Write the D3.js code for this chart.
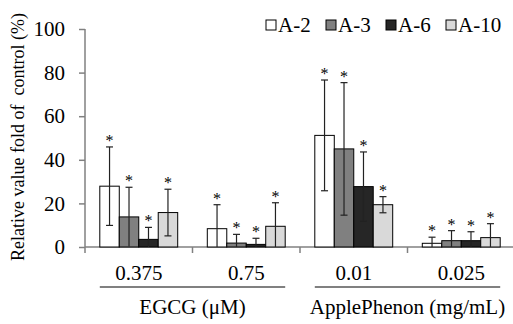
<!DOCTYPE html>
<html>
<head>
<meta charset="utf-8">
<script src="https://cdn.jsdelivr.net/npm/d3@7"></script>
<style>
  body { margin: 0; background: #fff; }
  svg text { font-family: "Liberation Serif", "Times New Roman", serif !important; fill: #000; }
</style>
</head>
<body>
<div id="chart"></div>
<script>
// doses on the x axis, two compounds
let doses = ["0.375", "0.75", "0.01", "0.025"];
let series = ["A-2", "A-3", "A-6", "A-10"];
let seriesColors = ["#ffffff", "#808080", "#262626", "#d9d9d9"];
let compounds = ["EGCG (\u03bcM)", "ApplePhenon (mg/mL)"];
let compoundDoses = [["0.375", "0.75"], ["0.01", "0.025"]];
let yTicks = [0, 20, 40, 60, 80, 100];

// means per series, one value per dose
let meanA2 = [27.9, 8.4, 51.2, 1.7];
let meanA3 = [13.8, 1.8, 45.0, 2.9];
let meanA6 = [3.5, 1.2, 27.7, 2.9];
let meanA10 = [15.8, 9.5, 19.4, 4.3];
// error (sd)
let errA2 = [18.0, 11.0, 25.4, 2.8];
let errA3 = [13.6, 4.0, 30.4, 4.6];
let errA6 = [5.5, 2.8, 15.9, 4.1];
let errA10 = [10.7, 10.8, 3.7, 6.4];

let means = [meanA2, meanA3, meanA6, meanA10];
let errs = [errA2, errA3, errA6, errA10];

let data = [];
doses.forEach((d, i) => {
    series.forEach((s, j) => {
        data.push({dose: d, series: s, mean: means[j][i], err: errs[j][i]});
    });
});

let width = 513, height = 324;
let serif = "Liberation Serif, Times New Roman, serif";
let svg = d3.select("#chart").append("svg")
    .attr("width", width)
    .attr("height", height)
    .attr("font-family", serif);

let x0 = d3.scaleBand().domain(doses).range([85, 515]).padding(0);
let x1 = d3.scaleBand().domain(series).range([0, x0.bandwidth()])
    .paddingInner(0).paddingOuter(0.76);
let y = d3.scaleLinear().domain([0, 100]).range([247, 29]);
let color = d3.scaleOrdinal().domain(series).range(seriesColors);

// y axis
let yAxis = svg.append("g")
    .attr("transform", "translate(85,0)")
    .call(d3.axisLeft(y).tickValues(yTicks).tickSize(6).tickPadding(14));
yAxis.attr("font-family", serif).attr("font-size", 21);
yAxis.select(".domain").attr("stroke", "#808080").attr("stroke-width", 1.5)
    .attr("d", "M0," + y(100) + "V" + (y(0) + 6));
yAxis.selectAll(".tick line").attr("stroke", "#808080").attr("stroke-width", 1.5);
yAxis.selectAll(".tick text").style("font-size", "21px");

// x axis line + group separators
let xAxis = svg.append("g")
    .attr("transform", "translate(0," + y(0) + ")")
    .call(d3.axisBottom(x0).tickSize(0).tickFormat(""));
xAxis.select(".domain").attr("stroke", "#808080").attr("stroke-width", 1.5)
    .attr("d", "M85,0H513");
xAxis.selectAll(".tick").remove();
xAxis.selectAll(".sep")
    .data(doses.slice(1))
    .enter().append("line")
    .attr("x1", d => x0(d)).attr("x2", d => x0(d))
    .attr("y1", 0).attr("y2", 6)
    .attr("stroke", "#808080").attr("stroke-width", 1.5);

// bars
let groups = svg.selectAll(".grp")
    .data(doses).enter().append("g")
    .attr("transform", d => "translate(" + x0(d) + ",0)");

groups.selectAll("rect")
    .data(d => data.filter(e => e.dose === d))
    .enter().append("rect")
    .attr("x", d => x1(d.series))
    .attr("width", x1.bandwidth())
    .attr("y", d => y(d.mean))
    .attr("height", d => y(0) - y(d.mean))
    .attr("fill", d => color(d.series))
    .attr("stroke", "#000")
    .attr("stroke-width", 1);

// error bars
let eb = groups.selectAll(".err")
    .data(d => data.filter(e => e.dose === d))
    .enter().append("g");
eb.append("line")
    .attr("x1", d => x1(d.series) + x1.bandwidth() / 2)
    .attr("x2", d => x1(d.series) + x1.bandwidth() / 2)
    .attr("y1", d => y(Math.max(0, d.mean - d.err)))
    .attr("y2", d => y(d.mean + d.err))
    .attr("stroke", "#222").attr("stroke-width", 1.2);
eb.append("line")
    .attr("x1", d => x1(d.series) + x1.bandwidth() / 2 - 3.5)
    .attr("x2", d => x1(d.series) + x1.bandwidth() / 2 + 3.5)
    .attr("y1", d => y(d.mean + d.err))
    .attr("y2", d => y(d.mean + d.err))
    .attr("stroke", "#222").attr("stroke-width", 1.2);
eb.filter(d => d.mean - d.err > 0.5).append("line")
    .attr("x1", d => x1(d.series) + x1.bandwidth() / 2 - 3.5)
    .attr("x2", d => x1(d.series) + x1.bandwidth() / 2 + 3.5)
    .attr("y1", d => y(d.mean - d.err))
    .attr("y2", d => y(d.mean - d.err))
    .attr("stroke", "#222").attr("stroke-width", 1.2);
eb.append("text")
    .attr("x", d => x1(d.series) + x1.bandwidth() / 2)
    .attr("y", d => y(d.mean + d.err) - 1)
    .attr("text-anchor", "middle")
    .style("font-size", "16px")
    .text("*");

// dose labels
svg.selectAll(".dose")
    .data(doses).enter().append("text")
    .attr("x", d => x0(d) + x0.bandwidth() / 2)
    .attr("y", 280)
    .attr("text-anchor", "middle")
    .style("font-size", "21px")
    .text(d => d);

// compound underline + title
compounds.forEach((c, i) => {
    let first = compoundDoses[i][0], last = compoundDoses[i][1];
    let xs = x0(first) + x1(series[0]);
    let xe = x0(last) + x1(series[3]) + x1.bandwidth();
    svg.append("line")
        .attr("x1", xs).attr("x2", xe)
        .attr("y1", 287).attr("y2", 287)
        .attr("stroke", "#808080").attr("stroke-width", 2);
    svg.append("text")
        .attr("x", (xs + xe) / 2)
        .attr("y", 314)
        .attr("text-anchor", "middle")
        .style("font-size", "21px")
        .text(c);
});

// y title
svg.append("text")
    .attr("transform", "translate(24,137) rotate(-90)")
    .attr("text-anchor", "middle")
    .style("font-size", "18px")
    .style("white-space", "pre")
    .text("Relative value fold of  control (%)");

// legend
let legendX = [266, 326, 386, 446];
let leg = svg.selectAll(".leg")
    .data(series).enter().append("g")
    .attr("transform", (d, i) => "translate(" + legendX[i] + ",0)");
leg.append("rect")
    .attr("x", 0).attr("y", 20)
    .attr("width", 10).attr("height", 10)
    .attr("fill", d => color(d))
    .attr("stroke", "#000").attr("stroke-width", 1);
leg.append("text")
    .attr("x", 12).attr("y", 32)
    .style("font-size", "21px")
    .text(d => d);
</script>
</body>
</html>
